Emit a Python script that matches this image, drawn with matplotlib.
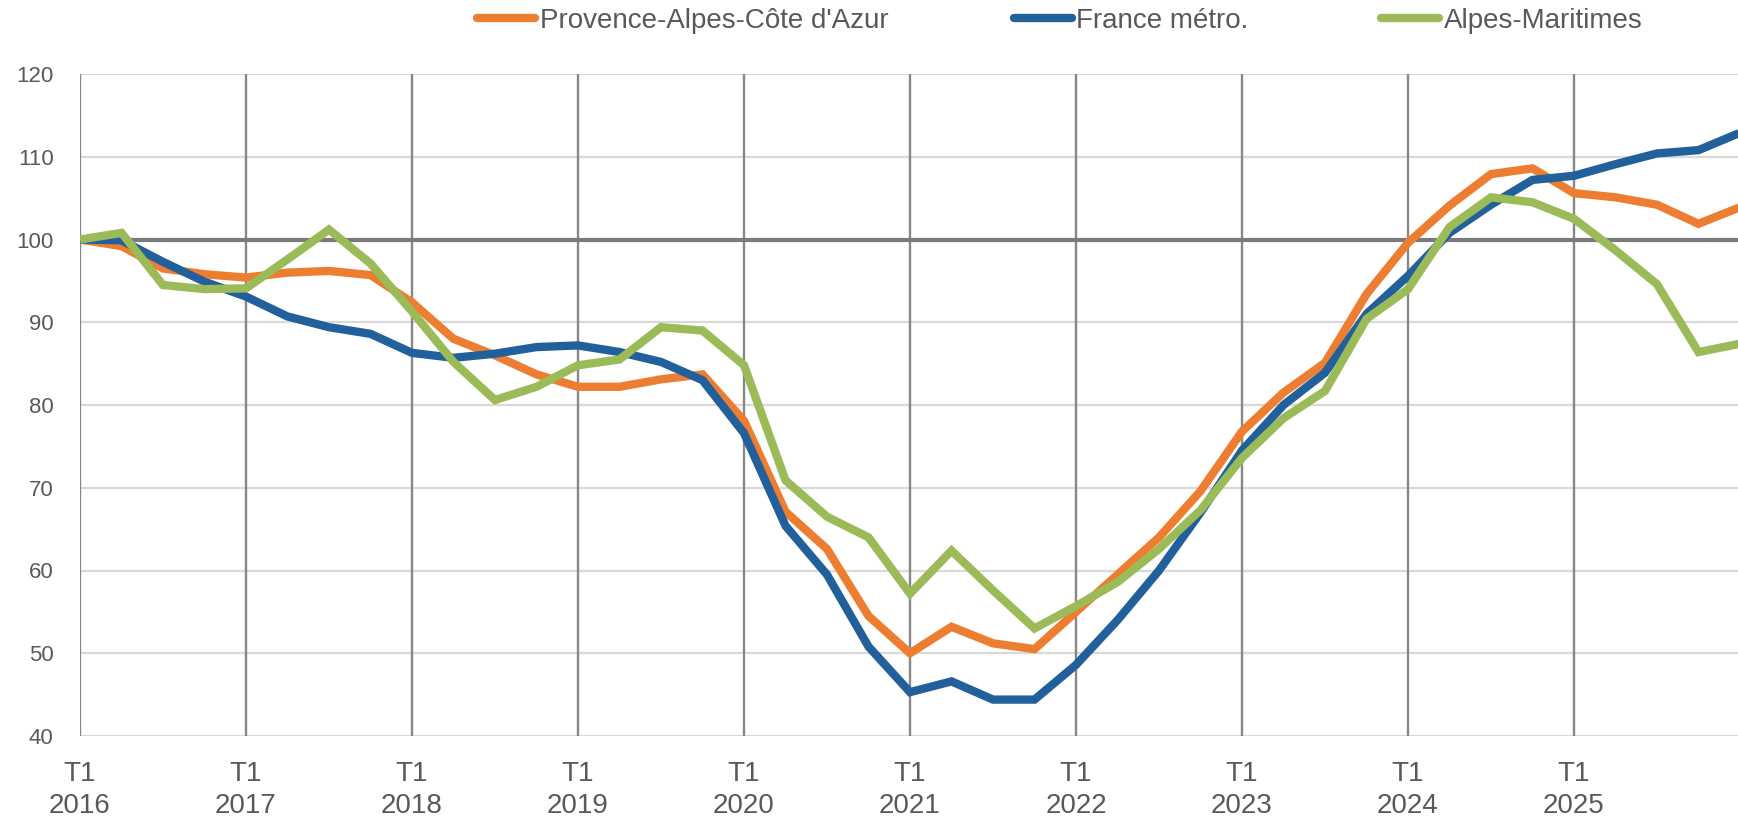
import matplotlib
matplotlib.use("Agg")
import matplotlib.pyplot as plt

plt.rcParams['font.family'] = ['Liberation Sans', 'DejaVu Sans']

# Quarters 2016 T1 .. 2026 T1
years = list(range(2016, 2027))
quarters = [f"T{q}\n{y}" for y in years for q in range(1, 5)][:41]

series_names = ["Provence-Alpes-Côte d'Azur", "France métro.", "Alpes-Maritimes"]
paca = [100, 99.2, 96.5, 95.8, 95.4, 96.0, 96.2, 95.7, 92.4, 88.0,
        86.0, 83.7, 82.2, 82.2, 83.1, 83.7, 78.1, 67.1, 62.6, 54.5,
        50.0, 53.2, 51.2, 50.5, 55.0, 59.5, 64.0, 69.6, 76.8, 81.5,
        85.1, 93.4, 99.6, 104.1, 107.9, 108.6, 105.6, 105.1, 104.2, 101.9,
        103.9]
france = [100, 99.9, 97.3, 94.9, 93.1, 90.7, 89.4, 88.6, 86.3, 85.7,
          86.2, 87.0, 87.2, 86.4, 85.2, 83.0, 76.6, 65.4, 59.5, 50.8,
          45.3, 46.6, 44.4, 44.4, 48.6, 54.0, 60.0, 67.0, 74.5, 80.0,
          83.9, 91.0, 95.6, 100.8, 104.2, 107.2, 107.7, 109.1, 110.4, 110.8,
          112.9]
alpes_mar = [100, 100.8, 94.5, 94.0, 94.1, 97.6, 101.2, 97.1, 91.3, 85.2,
             80.6, 82.2, 84.8, 85.5, 89.4, 89.0, 84.8, 70.9, 66.5, 64.0,
             57.2, 62.4, 57.6, 53.0, 55.7, 58.6, 62.6, 67.3, 73.6, 78.4,
             81.7, 90.4, 94.0, 101.5, 105.1, 104.5, 102.5, 98.7, 94.6, 86.4,
             87.4]
colors = ["#ED7D31", "#22609C", "#9BBB59"]
y_ticks = [40, 50, 60, 70, 80, 90, 100, 110, 120]

W, H = 1738, 825
fig = plt.figure(figsize=(W / 100, H / 100), dpi=100)
ax = fig.add_axes([80 / W, 89 / H, 1660 / W, (736 - 74) / H])

x = list(range(len(quarters)))
for vals, c, name in zip([paca, france, alpes_mar], colors, series_names):
    ax.plot(x, vals, color=c, lw=6, label=name, zorder=3,
            solid_joinstyle='miter', solid_capstyle='butt')

ax.set_xlim(0, len(quarters) - 1)
ax.set_ylim(40, 120)
ax.set_yticks(y_ticks)
tick_pos = list(range(0, 40, 4))
ax.set_xticks(tick_pos)
ax.set_xticklabels([quarters[i] for i in tick_pos], linespacing=1.3)

for s in ax.spines.values():
    s.set_visible(False)
for v in y_ticks:
    ax.axhline(v, color="#D9D9D9", lw=1.6, zorder=1)
for p in tick_pos:
    ax.axvline(p, color="#878787", lw=1.7, zorder=1.5)
ax.axhline(100, color="#7A7A7A", lw=3.0, zorder=2)

ax.tick_params(axis='y', length=0, pad=19, labelsize=16, labelcolor="#595959")
ax.tick_params(axis='x', length=0, pad=18, labelsize=20, labelcolor="#595959")

handles, labels = ax.get_legend_handles_labels()
starts = [477, 1014, 1381]
for h, l, xs in zip(handles, labels, starts):
    leg = fig.legend([h], [l], loc='center left', bbox_to_anchor=(xs / W, 1 - 21 / H),
                     frameon=False, fontsize=20, handlelength=2.1, handletextpad=0.15,
                     borderpad=0, borderaxespad=0)
    for t in leg.get_texts():
        t.set_color("#595959")
    for ln in leg.get_lines():
        ln.set_linewidth(6)
        ln.set_solid_capstyle('round')

fig.savefig("out.png", dpi=100)
